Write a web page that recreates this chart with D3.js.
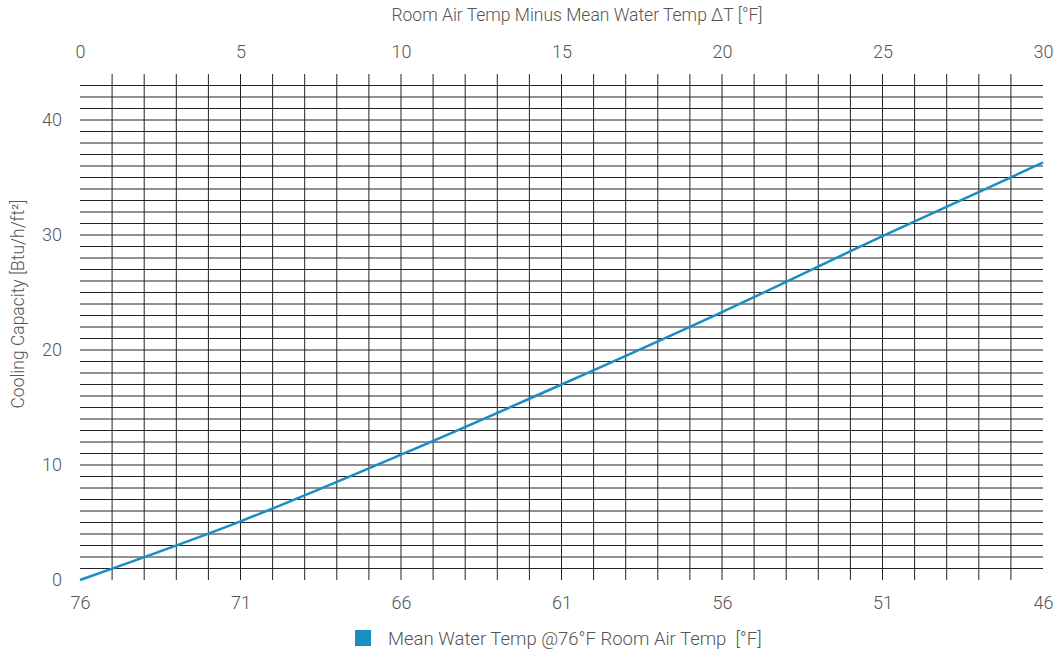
<!DOCTYPE html>
<html lang="en">
<head>
    <meta charset="UTF-8">
    <title>Cooling Capacity</title>
    <script src="https://d3js.org/d3.v7.min.js"></script>
    <style>
        body { margin: 0; background: #fff; font-family: Roboto, "Noto Sans", sans-serif; }
        text { fill: #555; font-weight: 300; }
    </style>
</head>
<body>
    <svg id="chart" width="1058" height="655"></svg>
    <script>
        // values
        const deltaT = [0, 5, 10, 15, 20, 25, 30];
        const capacity = [0, 5.1, 10.9, 17.0, 23.3, 29.9, 36.3];
        const topTicks = [0, 5, 10, 15, 20, 25, 30];
        const waterTempLabels = ["76", "71", "66", "61", "56", "51", "46"];
        const yTicks = [0, 10, 20, 30, 40];
        const seriesName = "Mean Water Temp @76°F Room Air Temp  [°F]";

        const svg = d3.select("#chart");
        const margin = { top: 74, right: 15, bottom: 75, left: 80 };
        const width = +svg.attr("width");
        const height = +svg.attr("height");
        const plotWidth = width - margin.left - margin.right;
        const plotHeight = height - margin.top - margin.bottom;

        const x = d3.scaleLinear().domain([0, 30]).range([0, plotWidth]);
        const y = d3.scaleLinear().domain([0, 44]).range([plotHeight, 0]);

        const plot = svg.append("g")
            .attr("transform", `translate(${margin.left},${margin.top})`);

        // grid
        plot.append("g").selectAll("line")
            .data(d3.range(1, 44))
            .join("line")
            .attr("x1", 0).attr("x2", plotWidth)
            .attr("y1", d => y(d)).attr("y2", d => y(d))
            .attr("stroke", "#222").attr("stroke-width", 1);

        plot.append("g").selectAll("line")
            .data(d3.range(1, 30))
            .join("line")
            .attr("x1", d => x(d)).attr("x2", d => x(d))
            .attr("y1", 0).attr("y2", plotHeight)
            .attr("stroke", "#222").attr("stroke-width", 1);

        // top axis (delta T)
        const topAxis = d3.axisTop(x).tickValues(topTicks).tickSize(0).tickPadding(16);
        plot.append("g").call(topAxis)
            .call(g => g.select(".domain").remove())
            .selectAll("text").style("font-size", "18px").style("font-family", "Roboto");

        // bottom axis (mean water temp)
        const bottomAxis = d3.axisBottom(x).tickValues(topTicks)
            .tickFormat((d, i) => waterTempLabels[i]).tickSize(0).tickPadding(16);
        plot.append("g").attr("transform", `translate(0,${plotHeight})`).call(bottomAxis)
            .call(g => g.select(".domain").remove())
            .selectAll("text").style("font-size", "18px").style("font-family", "Roboto");

        // left axis
        const leftAxis = d3.axisLeft(y).tickValues(yTicks).tickSize(0).tickPadding(18);
        plot.append("g").call(leftAxis)
            .call(g => g.select(".domain").remove())
            .selectAll("text").style("font-size", "18px").style("font-family", "Roboto");

        // line
        const points = deltaT.map((d, i) => [d, capacity[i]]);
        plot.append("path")
            .datum(points)
            .attr("fill", "none")
            .attr("stroke", "#1a8dc4")
            .attr("stroke-width", 2.5)
            .attr("d", d3.line().x(d => x(d[0])).y(d => y(d[1])).curve(d3.curveMonotoneX));

        // titles
        svg.append("text")
            .attr("x", 577)
            .attr("y", 21)
            .attr("text-anchor", "middle")
            .style("font-size", "17.5px")
            .text("Room Air Temp Minus Mean Water Temp ΔT [°F]");

        svg.append("text")
            .attr("transform", `translate(24,304) rotate(-90)`)
            .attr("text-anchor", "middle")
            .style("font-size", "17.5px")
            .text("Cooling Capacity [Btu/h/ft²]");

        // legend
        const legend = svg.append("g").attr("transform", "translate(355,630)");
        legend.append("rect")
            .attr("width", 16).attr("height", 16)
            .attr("fill", "#1a8dc4");
        legend.append("text")
            .attr("x", 33).attr("y", 15)
            .style("font-size", "18.5px")
            .style("white-space", "pre")
            .text(seriesName);
    </script>
</body>
</html>
